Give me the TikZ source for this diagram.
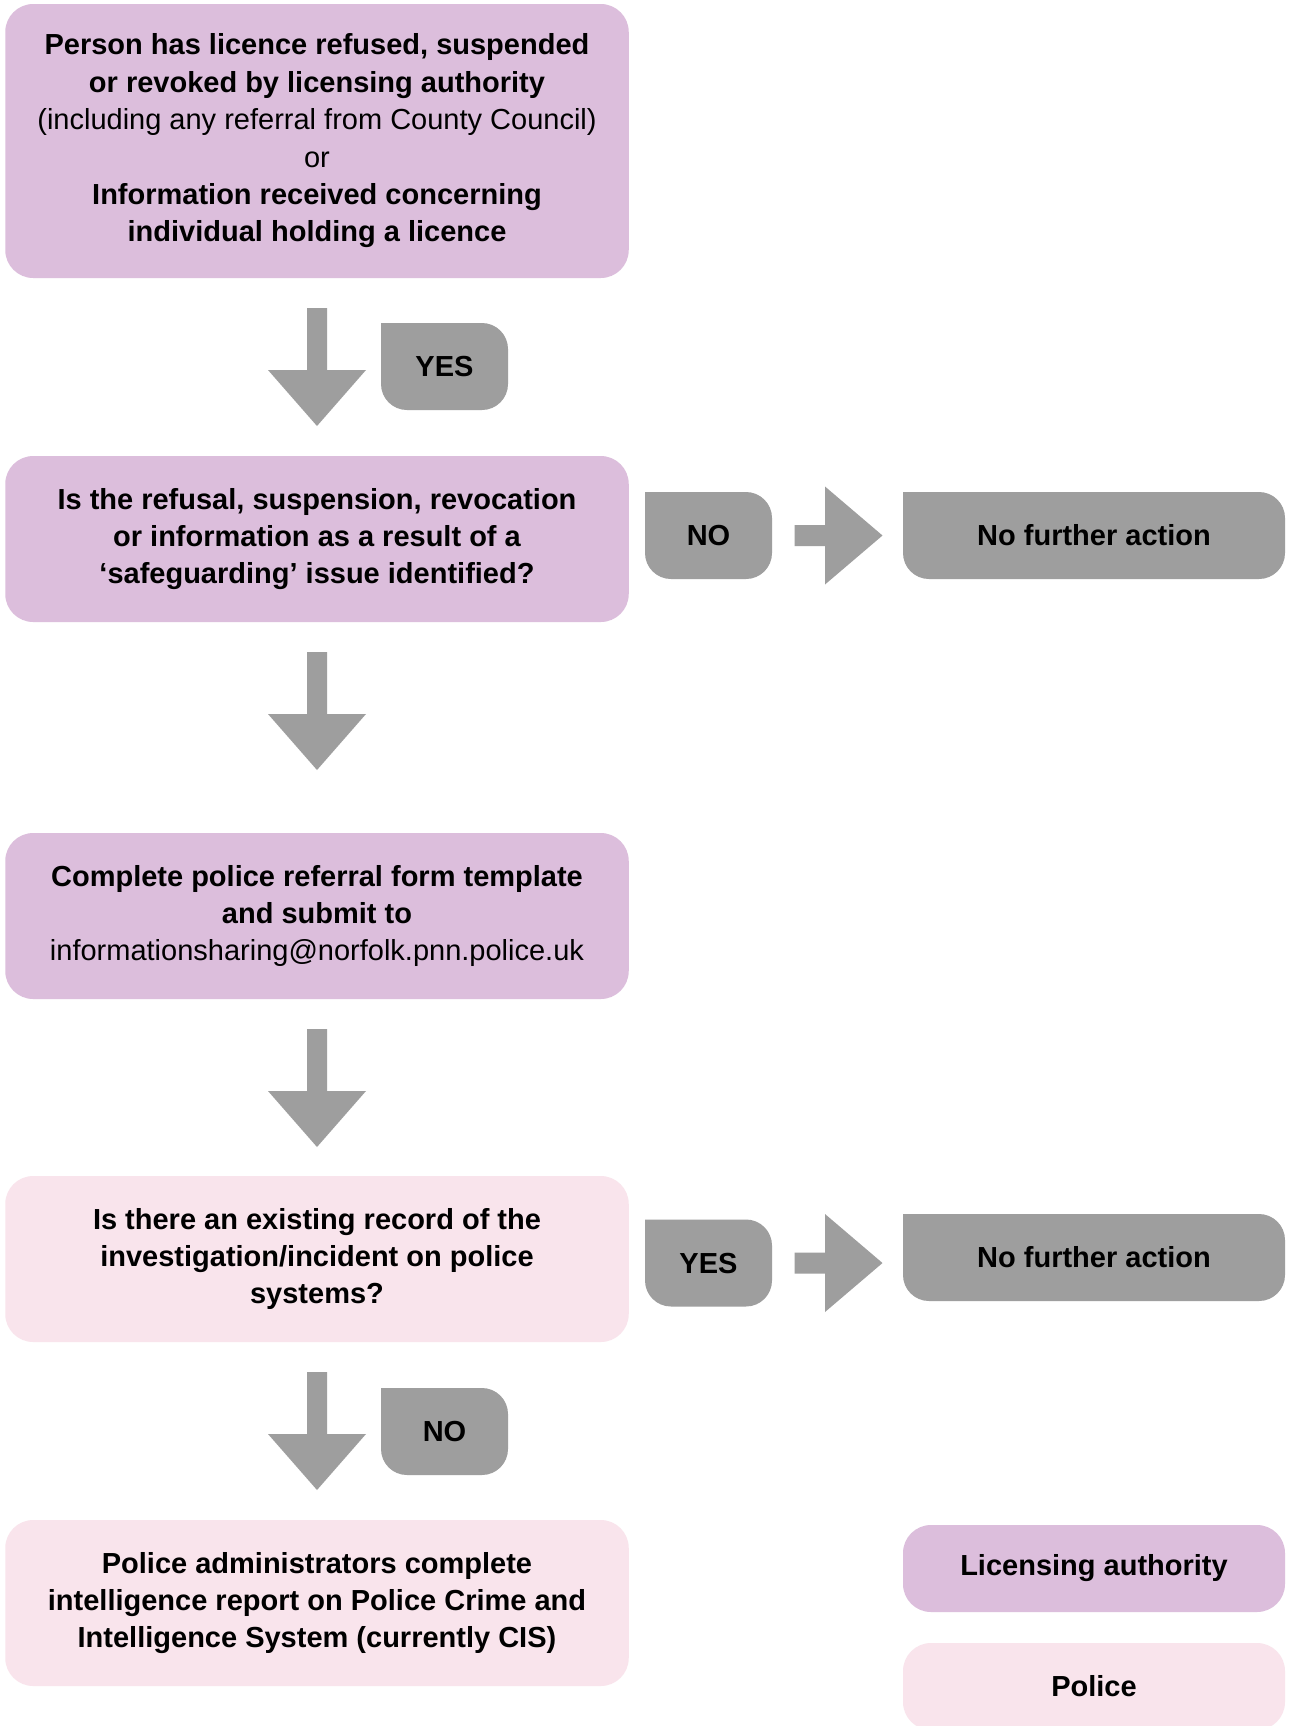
\documentclass[tikz,border=0pt]{standalone}
\usepackage{fontspec}
\setmainfont{Liberation Sans}
\usetikzlibrary{backgrounds}
\definecolor{lapurple}{RGB}{220,190,220}
\definecolor{polpink}{RGB}{249,228,236}
\definecolor{arrgray}{RGB}{158,158,158}
\tikzset{
  txtfont/.style={font=\bfseries\fontsize{14.5}{18.7}\selectfont, text=black},
  mainbox/.style={rectangle, rounded corners=14pt, minimum width=311.75pt, minimum height=83pt,
    inner sep=0pt, outer sep=0pt, align=center, txtfont},
  labox/.style={mainbox, fill=lapurple},
  polbox/.style={mainbox, fill=polpink},
  graybox/.style={rectangle, minimum width=63.5pt, minimum height=43.5pt, inner sep=0pt,
    outer sep=0pt, txtfont},
  widegray/.style={graybox, minimum width=191pt},
  legendbox/.style={mainbox, minimum width=191pt, minimum height=43.5pt},
  blockarrow/.style={fill=arrgray, draw=none},
}
\newcommand\tlsquarefill[1]{%
  \fill[arrgray] (#1.north west) -- ([xshift=-13pt]#1.north east)
    arc[start angle=90, end angle=0, radius=13pt] -- ([yshift=13pt]#1.south east)
    arc[start angle=0, end angle=-90, radius=13pt] -- ([xshift=13pt]#1.south west)
    arc[start angle=270, end angle=180, radius=13pt] -- cycle;}
\newcommand\downblock[1]{%
  \fill[blockarrow, shift={(#1)}] (-10,0) -- (10,0) -- (10,62) -- (49,62) -- (0,118)
    -- (-49,62) -- (-10,62) -- cycle;}
\newcommand\rightblock[1]{%
  \fill[blockarrow, shift={(#1)}] (0,-10.5) -- (30.5,-10.5) -- (30.5,-49) -- (88,0)
    -- (30.5,49) -- (30.5,10.5) -- (0,10.5) -- cycle;}
\begin{document}
\begin{tikzpicture}[x=0.5pt, y=-0.5pt]
\useasboundingbox (0,0) rectangle (1293,1726);

% main column
\node[labox, minimum height=137pt] (b1) at (317,141)
  {Person has licence refused, suspended\\
   or revoked by licensing authority\\
   {\mdseries (including any referral from County Council)}\\
   {\mdseries or}\\
   Information received concerning\\
   individual holding a licence};
\node[labox] (b2) at (317,539)
  {Is the refusal, suspension, revocation\\
   or information as a result of a\\
   ‘safeguarding’ issue identified?};
\node[labox] (b3) at (317,916)
  {Complete police referral form template\\
   and submit to\\
   {\mdseries informationsharing@norfolk.pnn.police.uk}};
\node[polbox] (b4) at (317,1259)
  {Is there an existing record of the\\
   investigation/incident on police\\
   systems?};
\node[polbox] (b5) at (317,1603)
  {Police administrators complete\\
   intelligence report on Police Crime and\\
   Intelligence System (currently CIS)};

% grey labels
\node[graybox] (yes1) at (444.5,366.5) {YES};
\node[graybox] (no1) at (708.5,535.5) {NO};
\node[widegray] (nfa1) at (1094,535.5) {No further action};
\node[graybox] (yes2) at (708.5,1263) {YES};
\node[widegray] (nfa2) at (1094,1257.5) {No further action};
\node[graybox] (no2) at (444.5,1431.5) {NO};

% legend
\node[legendbox, fill=lapurple] (leg1) at (1094,1568.5) {Licensing authority};
\node[legendbox, fill=polpink] (leg2) at (1094,1686.5) {Police};

\begin{pgfonlayer}{background}
  \fill[white] (0,0) rectangle (1293,1726);
  \tlsquarefill{yes1}
  \tlsquarefill{no1}
  \tlsquarefill{nfa1}
  \tlsquarefill{yes2}
  \tlsquarefill{nfa2}
  \tlsquarefill{no2}
\end{pgfonlayer}

% block arrows
\coordinate (d1) at ([yshift=-15pt]b1.south);
\coordinate (d2) at ([yshift=-15pt]b2.south);
\coordinate (d3) at ([yshift=-15pt]b3.south);
\coordinate (d4) at ([yshift=-15pt]b4.south);
\downblock{d1}
\downblock{d2}
\downblock{d3}
\downblock{d4}
\coordinate (r1) at ([xshift=11.25pt]no1.east);
\coordinate (r2) at ([xshift=11.25pt]yes2.east);
\rightblock{r1}
\rightblock{r2}
\end{tikzpicture}
\end{document}
